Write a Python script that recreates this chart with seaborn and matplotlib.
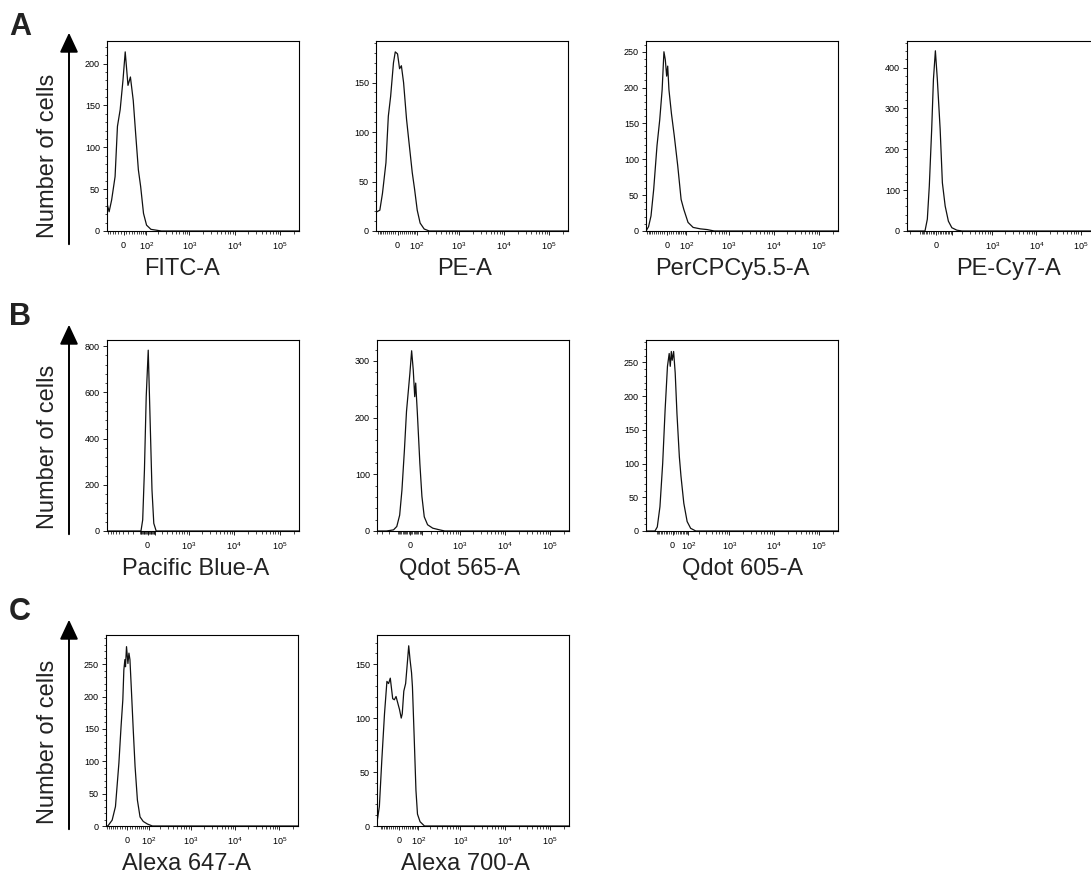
import numpy as np
import pandas as pd
import seaborn as sns
import matplotlib
matplotlib.use("Agg")
from matplotlib import pyplot as plt
from matplotlib.ticker import MultipleLocator, AutoMinorLocator

# channel names, in panel order
channels = ["FITC-A", "PE-A", "PerCPCy5.5-A", "PE-Cy7-A",
            "Pacific Blue-A", "Qdot 565-A", "Qdot 605-A",
            "Alexa 647-A", "Alexa 700-A"]

# histogram curves: fluorescence intensity vs number of cells
fitc_x = [-66, -66, -56, -45, -31, -22, -12, -2, 6, 16, 25, 36, 46, 58, 69, 84, 102, 132, 234, 262144]
fitc_y = [0, 33, 23, 37, 65, 125, 145, 180, 214, 174, 184, 156, 116, 73, 53, 21, 7, 2, 0, 0]

pe_x = [-115, -115, -89, -73, -54, -42, -31, -18, -10, 0, 9, 17, 27, 41, 52, 71, 85, 102, 123, 157, 209, 262144]
pe_y = [0, 19, 21, 38, 69, 116, 136, 170, 181, 179, 164, 167, 150, 113, 92, 59, 42, 21, 8, 2, 0, 0]

percp_x = [-108, -91, -76, -61, -44, -31, -20, -12, -6, 0, 4.5, 10, 21, 34, 51, 69, 85, 113, 154, 230, 330, 480, 262144]
percp_y = [0, 6, 21, 58, 119, 155, 197, 250, 239, 216, 230, 197, 164, 133, 91, 44, 30, 12, 5, 3, 2, 0, 0]

pecy7_x = [-234, -66, -51, -39, -25, -15, -4, 7, 23, 36, 53, 74, 99, 141, 193, 262144]
pecy7_y = [0, 0, 29, 110, 249, 371, 441, 371, 249, 118, 61, 24, 8, 2, 0, 0]

pacblue_x = [-968, -86, -63, -40, -17, 9, 31, 58, 82, 115, 262144]
pacblue_y = [0, 0, 48, 264, 581, 782, 509, 177, 33, 0, 0]

qdot565_x = [-403, -233, -146, -112, -85, -65, -44, -27, -14, 0, 14, 27, 39, 47, 61, 83, 102, 125, 161, 226, 339, 448, 262144]
qdot565_y = [0, 0, 2, 8, 28, 72, 143, 211, 243, 278, 318, 284, 237, 261, 208, 119, 61, 25, 11, 5, 2, 0, 0]

qdot605_x = [-200, -113, -95, -76, -58, -43, -29, -19, -13, -7, -2, 6, 15, 25, 39, 49, 67, 90, 117, 164, 262144]
qdot605_y = [0, 0, 6, 36, 100, 179, 244, 263, 244, 266, 253, 266, 234, 174, 110, 81, 41, 14, 4, 0, 0]

alexa647_x = [-99, -88, -82, -64, -48, -33, -24, -17, -13, -9, -6.6, -2.7, 2.7, 6.6, 10.5, 15.6, 23.6, 31, 41, 53, 69, 93, 127, 262144]
alexa647_y = [0, 0, 2, 9, 30, 97, 154, 195, 241, 257, 246, 277, 251, 267, 257, 215, 148, 92, 40, 14, 7, 3, 0, 0]

alexa700_x = [-128, -126, -110, -93, -76, -62, -53, -44, -32, -24, -16, -8, 0, 8, 12.7, 20, 28.7, 37, 44, 51, 59, 64, 74, 85, 95, 113, 149, 262144]
alexa700_y = [0, 5, 18, 61, 104, 134, 132, 137, 118, 117, 120, 114, 108, 100, 104, 125, 132, 151, 167, 154, 142, 129, 83, 33, 11, 4, 0, 0]

curves = [(fitc_x, fitc_y), (pe_x, pe_y), (percp_x, percp_y), (pecy7_x, pecy7_y),
          (pacblue_x, pacblue_y), (qdot565_x, qdot565_y), (qdot605_x, qdot605_y),
          (alexa647_x, alexa647_y), (alexa700_x, alexa700_y)]

# axis settings per panel: linear width, x minimum, y max, y tick step, show 10^2 label
lin_width = [35, 43, 43, 54, 128, 78, 55, 37, 45]
x_min = [-66, -115, -108, -234, -968, -403, -200, -99, -128]
y_max = [227, 192, 265, 465, 826, 337, 283, 295, 177]
y_step = [50, 50, 50, 100, 200, 100, 50, 50, 50]
show_100 = [True, True, True, False, False, False, True, True, True]
X_MAX = 262144

# layout in pixels
W, H = 1091, 880
ROWS = [(41, 231), (340, 531), (635, 826)]
COL_LEFT = [[107, 376, 646, 907], [107, 377, 646], [106, 377]]
AX_W = 192
LABEL_X = [0.39, 0.46, 0.45, 0.53, 0.46, 0.43, 0.5, 0.42, 0.46]
LETTERS = [("A", 35), ("B", 325), ("C", 620)]
ARROWS = [(247, 30), (537, 322), (832, 617)]

sns.set_style("ticks")
plt.rcParams["font.family"] = ["Liberation Sans", "DejaVu Sans"]
plt.rcParams["mathtext.default"] = "regular"


def asinh_funcs(c):
    k = np.log(10)

    def fwd(x):
        return np.arcsinh(np.asarray(x, dtype=float) / (2 * c)) / k

    def inv(y):
        return 2 * c * np.sinh(np.asarray(y, dtype=float) * k)
    return fwd, inv


fig = plt.figure(figsize=(W / 100, H / 100), dpi=100)

panel = 0
for r, (top, bottom) in enumerate(ROWS):
    for left in COL_LEFT[r]:
        ax = fig.add_axes([left / W, 1 - bottom / H, AX_W / W, (bottom - top) / H])
        xs, ys = curves[panel]
        df = pd.DataFrame({"intensity": xs, "cells": ys})
        ax.set_xscale("function", functions=asinh_funcs(lin_width[panel]))
        sns.lineplot(data=df, x="intensity", y="cells", ax=ax, color="#111111",
                     lw=0.9, sort=False, estimator=None)
        ax.set_xlim(x_min[panel], X_MAX)
        ax.set_ylim(0, y_max[panel])

        majors = [0, 1e2, 1e3, 1e4, 1e5]
        labels = ["0", "$10^{2}$" if show_100[panel] else "", "$10^{3}$", "$10^{4}$", "$10^{5}$"]
        ax.set_xticks(majors, labels)
        minors = [m * 10 ** k for k in range(1, 6) for m in range(1, 10)]
        minors += [-m * 10 ** k for k in range(1, 4) for m in range(1, 10)]
        minors = [v for v in minors if x_min[panel] < v < X_MAX and v not in majors]
        ax.set_xticks(minors, minor=True)
        ax.yaxis.set_major_locator(MultipleLocator(y_step[panel]))
        ax.yaxis.set_minor_locator(AutoMinorLocator(5))

        ax.tick_params(which="major", direction="out", length=3, width=0.6,
                       labelsize=6.5, colors="black")
        ax.tick_params(which="minor", direction="out", length=1.8, width=0.5, colors="black")
        ax.tick_params(axis="x", which="major", pad=4)
        ax.tick_params(axis="y", which="major", pad=2)
        for sp in ax.spines.values():
            sp.set_color("black")
            sp.set_linewidth(0.8)

        ax.set_ylabel("")
        ax.set_xlabel(channels[panel], fontsize=17, color="#222222")
        ax.xaxis.set_label_coords(LABEL_X[panel], -0.2)
        ax.xaxis.label.set_va("center")
        panel += 1

for (letter, base), (y0, y1) in zip(LETTERS, ARROWS):
    fig.text(9 / W, 1 - base / H, letter, fontsize=22, fontweight="bold",
             ha="left", va="baseline", color="#222222")
    fig.add_artist(matplotlib.patches.FancyArrowPatch(
        (69 / W, 1 - y0 / H), (69 / W, 1 - y1 / H), transform=fig.transFigure,
        arrowstyle="-|>,head_length=0.6,head_width=0.28", mutation_scale=20,
        lw=1.4, color="black"))
    fig.text(48 / W, 1 - ((y0 + y1) / 2 + 17) / H, "Number of cells", fontsize=17,
             rotation=90, ha="center", va="center", color="#222222")

fig.savefig("out.png", dpi=100)
